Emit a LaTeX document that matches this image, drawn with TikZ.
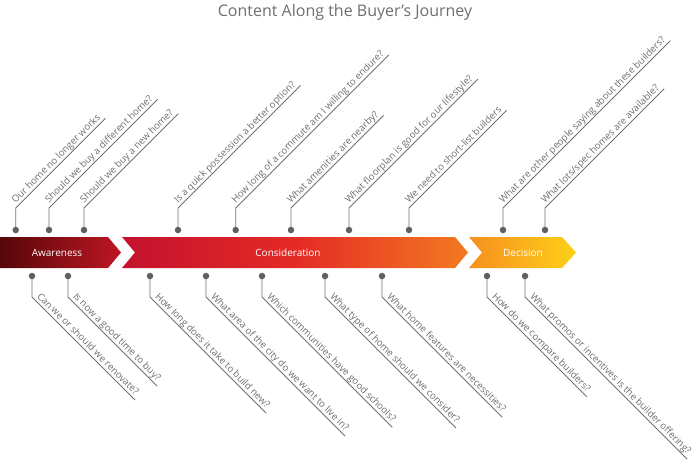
\documentclass[tikz,border=0pt]{standalone}
\usepackage{fontspec}
\setmainfont{Open Sans}
\definecolor{linec}{HTML}{707173}
\definecolor{dotc}{HTML}{5F6062}
\definecolor{txtc}{HTML}{6D6E71}
\definecolor{awL}{HTML}{560709}
\definecolor{awR}{HTML}{BE1622}
\definecolor{coL}{HTML}{C4122F}
\definecolor{coM}{HTML}{E42A25}
\definecolor{coR}{HTML}{F37A21}
\definecolor{deL}{HTML}{F7901E}
\definecolor{deR}{HTML}{FDD017}
\tikzset{
  calldot/.style={circle, fill=dotc, inner sep=0pt, minimum size=6.5pt},
  callline/.style={draw=linec, line width=0.9pt},
  calltext/.style={anchor=south west, inner xsep=3pt, inner ysep=1pt, text depth=2pt, text=txtc, font=\fontsize{9.6}{11}\selectfont},
  uptext/.style={calltext, rotate=45},
  downtext/.style={calltext, rotate=-45},
  barlabel/.style={text=white, font=\fontsize{10}{12}\selectfont},
  titletext/.style={text=txtc, anchor=base, font=\fontsize{16}{18}\selectfont},
}
\newcommand\upcall[3]{%
  \coordinate (#1p) at (#2,230);
  \coordinate (#1c) at (#2,208);
  \node[uptext] (#1) at (#1c) {#3};
  \draw[callline] (#1p) -- (#1c) -- (#1.south east);
  \node[calldot] (#1d) at (#1p) {};
}
\newcommand\downcall[3]{%
  \coordinate (#1p) at (#2,276);
  \coordinate (#1c) at (#2,297);
  \node[downtext] (#1) at (#1c) {#3};
  \draw[callline] (#1p) -- (#1c) -- (#1.south east);
  \node[calldot] (#1d) at (#1p) {};
}
\begin{document}
\begin{tikzpicture}[x=1pt,y=-1pt]
\useasboundingbox (0,0) rectangle (700,464);
\node[titletext] (title) at (345,16) {Content Along the Buyer’s Journey};
% bar
\shade[left color=awL, right color=awR] (0,237) -- (108,237) -- (121,252.5) -- (108,268) -- (0,268) -- cycle;
\shade[left color=coL, right color=coR, middle color=coM] (122,237) -- (455,237) -- (468,252.5) -- (455,268) -- (122,268) -- (135,252.5) -- cycle;
\shade[left color=deL, right color=deR] (469,237) -- (562,237) -- (576,252.5) -- (562,268) -- (469,268) -- (482,252.5) -- cycle;
\node[barlabel] (aw) at (57,252.5) {Awareness};
\node[barlabel] (co) at (288,252.5) {Consideration};
\node[barlabel] (de) at (523,252.5) {Decision};
% top callouts
\upcall{u1}{15.7}{Our home no longer works}
\upcall{u2}{49}{Should we buy a different home?}
\upcall{u3}{84}{Should we buy a new home?}
\upcall{u4}{178}{Is a quick possession a better option?}
\upcall{u5}{235.7}{How long of a commute am I willing to endure?}
\upcall{u6}{291}{What amenities are nearby?}
\upcall{u7}{349}{What floorplan is good for our lifestyle?}
\upcall{u8}{409}{We need to short-list builders}
\upcall{u9}{503}{What are other people saying about these builders?}
\upcall{u10}{545}{What lots/spec homes are available?}
% bottom callouts
\downcall{d1}{32}{Can we or should we renovate?}
\downcall{d2}{68}{Is now a good time to buy?}
\downcall{d3}{150}{How long does it take to build new?}
\downcall{d4}{206}{What area of the city do we want to live in?}
\downcall{d5}{262}{Which communities have good schools?}
\downcall{d6}{325}{What type of home should we consider?}
\downcall{d7}{382}{What home features are necessities?}
\downcall{d8}{487}{How do we compare builders?}
\downcall{d9}{525}{What promos or incentives is the builder offering?}
\end{tikzpicture}
\end{document}
